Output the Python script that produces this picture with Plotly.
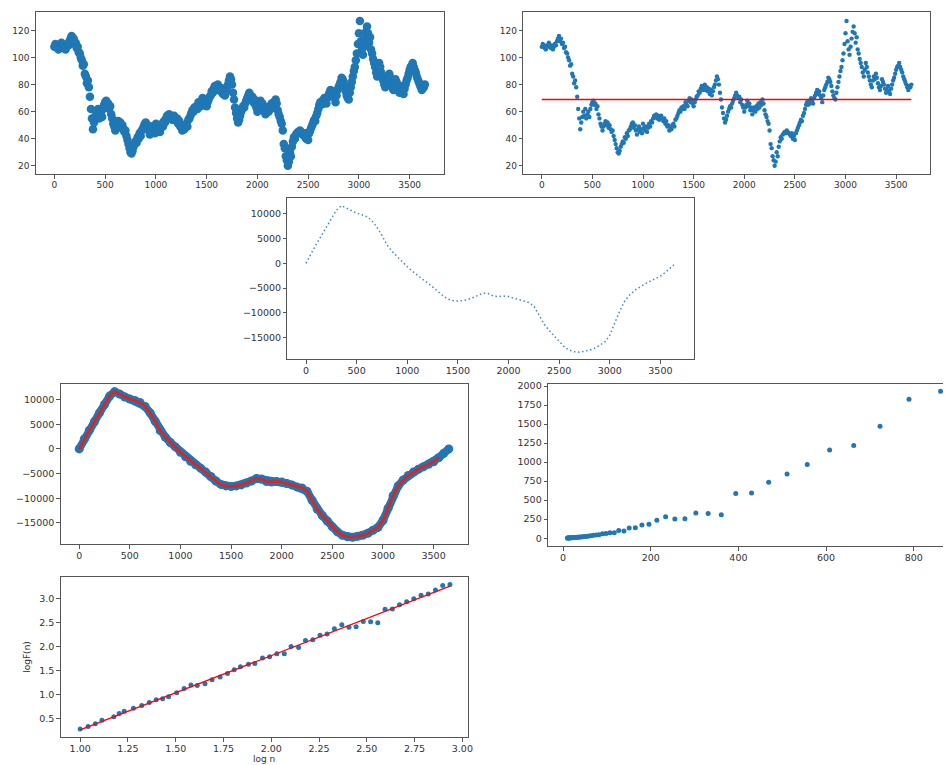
import numpy as np
import plotly.graph_objects as go

# ---------------------------------------------------------------- data
# daily closing price, sampled every 10 trading days
price_step = 10
close = [
    108, 110, 109, 107, 106, 109, 108, 111, 109, 107,
    109, 106, 108, 110, 109, 112, 114, 116, 112, 114,
    110, 111, 107, 108, 104, 103, 100, 98, 94, 95,
    88, 86, 81, 83, 78, 71, 62, 55, 47, 52,
    56, 60, 57, 62, 55, 58, 60, 56, 62, 65,
    67, 68, 65, 66, 62, 64, 58, 55, 51, 49,
    46, 49, 51, 53, 50, 52, 48, 50, 47, 45,
    46, 42, 39, 36, 33, 30, 29, 31, 34, 36,
    38, 37, 41, 40, 44, 42, 46, 47, 49, 51,
    52, 48, 50, 46, 43, 47, 49, 45, 47, 44,
    51, 48, 46, 49, 45, 48, 51, 49, 53, 52,
    55, 57, 56, 58, 55, 57, 54, 56, 57, 55,
    53, 55, 51, 53, 49, 50, 46, 48, 47, 50,
    51, 49, 54, 55, 57, 59, 61, 60, 63, 62,
    64, 62, 67, 65, 64, 68, 70, 67, 69, 66,
    64, 67, 69, 71, 72, 75, 74, 77, 79, 76,
    78, 80, 76, 78, 75, 77, 73, 76, 72, 75,
    78, 80, 83, 86, 84, 80, 74, 69, 63, 59,
    55, 52, 54, 57, 60, 62, 64, 63, 66, 68,
    70, 72, 74, 72, 70, 71, 67, 69, 65, 63,
    60, 63, 65, 68, 64, 66, 61, 63, 58, 61,
    63, 60, 64, 62, 66, 63, 67, 65, 69, 66,
    61, 58, 56, 53, 51, 46, 36, 33, 27, 24,
    20, 23, 30, 27, 34, 38, 41, 40, 43, 44,
    45, 44, 46, 45, 44, 43, 42, 44, 40, 42,
    39, 44, 46, 48, 50, 52, 54, 53, 57, 59,
    62, 65, 67, 65, 68, 66, 70, 68, 66, 70,
    72, 74, 76, 73, 75, 72, 70, 67, 72, 76,
    78, 80, 82, 85, 84, 82, 79, 75, 72, 70,
    69, 74, 78, 82, 86, 90, 93, 98, 103, 110,
    118, 127, 112, 106, 102, 108, 114, 119, 123, 118,
    111, 115, 106, 103, 99, 96, 93, 89, 86, 91,
    96, 93, 89, 86, 83, 80, 78, 83, 86, 84,
    88, 85, 81, 78, 76, 79, 84, 82, 80, 77,
    74, 76, 79, 75, 73, 77, 80, 83, 85, 88,
    91, 93, 94, 96, 93, 91, 89, 86, 84, 82,
    80, 78, 76, 79, 78, 80,
]
days = np.arange(len(close)) * price_step
close_mean = float(np.mean(close))

# cumulative profile of deviations from the mean, every 50 days
profile_step = 50
profile = [
    0, 2000, 3800, 5500, 7300, 9000, 10700, 11600, 11100, 10500,
    10100, 9800, 9400, 8600, 7300, 5600, 3700, 2400, 1300, 400,
    -700, -1600, -2500, -3200, -3900, -4700, -5600, -6500, -7200, -7500,
    -7600, -7500, -7300, -6900, -6500, -6000, -6100, -6600, -6700, -6600,
    -6700, -7000, -7300, -7700, -7900, -8600, -10400, -12200, -13500, -14600,
    -15800, -16800, -17500, -17800, -17900, -17700, -17500, -17100, -16500, -15900,
    -14500, -12000, -9500, -7500, -6300, -5400, -4700, -4100, -3600, -3100,
    -2600, -1800, -900, 0,
]
profile_days = np.arange(len(profile)) * profile_step
trend_last_day = 3550

# fluctuation function F(n) for each window size n (log10 values)
window_n = [
    10, 11, 12, 13, 15, 16, 17, 19, 21, 23,
    25, 27, 29, 32, 35, 38, 41, 45, 49, 54,
    59, 64, 69, 76, 82, 90, 98, 107, 117, 127,
    139, 151, 165, 180, 196, 214, 234, 255, 278, 303,
    331, 361, 394, 430, 469, 511, 557, 608, 663, 723,
    789, 861,
]
log_F = [
    0.29, 0.34, 0.40, 0.47, 0.545, 0.61, 0.66, 0.72, 0.78, 0.84,
    0.895, 0.92, 0.96, 1.04, 1.13, 1.20, 1.19, 1.23, 1.31, 1.37,
    1.44, 1.52, 1.58, 1.63, 1.65, 1.76, 1.79, 1.85, 1.85, 2.00,
    1.98, 2.125, 2.14, 2.235, 2.26, 2.37, 2.45, 2.40, 2.41, 2.52,
    2.51, 2.49, 2.77, 2.775, 2.866, 2.926, 2.987, 3.064, 3.086, 3.168,
    3.262, 3.286,
]
log_n = np.log10(window_n)
F_n = 10 ** np.asarray(log_F)
slope, intercept = np.polyfit(log_n, log_F, 1)
fit_x = np.array([log_n.min(), log_n.max()])
fit_y = slope * fit_x + intercept

# tick positions / labels
day_ticks = [0, 500, 1000, 1500, 2000, 2500, 3000, 3500]
price_ticks = [20, 40, 60, 80, 100, 120]
profile_ticks = [-15000, -10000, -5000, 0, 5000, 10000]
profile_labels = [str(v).replace("-", "\u2212") for v in profile_ticks]
n_ticks = [0, 200, 400, 600, 800]
F_ticks = [0, 250, 500, 750, 1000, 1250, 1500, 1750, 2000]
logn_ticks = [1.00, 1.25, 1.50, 1.75, 2.00, 2.25, 2.50, 2.75, 3.00]
logF_ticks = [0.5, 1.0, 1.5, 2.0, 2.5, 3.0]

# ---------------------------------------------------------------- layout helpers
W, H = 948, 765
BLUE = "#1f77b4"
FONT = "DejaVu Sans, sans-serif"


def dom_x(l, r):
    return [l / W, min(r / W, 1.0)]


def dom_y(t, b):
    return [1 - b / H, 1 - t / H]


def axis(domain, rng, ticks, labels=None, anchor=None, mirror=True, size=9.5):
    a = dict(
        domain=domain, range=rng, tickmode="array", tickvals=ticks,
        ticktext=labels if labels is not None else [str(t) for t in ticks],
        showline=True, linecolor="#555", linewidth=1, mirror=mirror,
        ticks="outside", ticklen=3.5, tickwidth=1, tickcolor="#555",
        showgrid=False, zeroline=False,
        tickfont=dict(family=FONT, size=size, color="#333"),
    )
    if anchor:
        a["anchor"] = anchor
    return a


fig = go.Figure()

# 1: price, large markers
fig.add_trace(go.Scatter(x=days, y=close, mode="markers", xaxis="x", yaxis="y",
                         marker=dict(color=BLUE, size=8.5, line=dict(width=0))))
# 2: price, small markers with the mean level
fig.add_trace(go.Scatter(x=days, y=close, mode="markers", xaxis="x2", yaxis="y2",
                         marker=dict(color=BLUE, size=4.4, line=dict(width=0))))
fig.add_trace(go.Scatter(x=[days[0], days[-1]], y=[close_mean, close_mean], mode="lines",
                         xaxis="x2", yaxis="y2", line=dict(color="red", width=1.5)))
# 3: profile, dotted
fig.add_trace(go.Scatter(x=profile_days, y=profile, mode="lines", xaxis="x3", yaxis="y3",
                         line=dict(color=BLUE, width=1.5, dash="1.5px,2.6px"), opacity=0.85))
# 4: profile (thick) with local trend
fig.add_trace(go.Scatter(x=profile_days, y=profile, mode="lines+markers", xaxis="x4", yaxis="y4",
                         line=dict(color=BLUE, width=8),
                         marker=dict(color=BLUE, size=9, line=dict(width=0))))
trend_mask = profile_days <= trend_last_day
fig.add_trace(go.Scatter(x=profile_days[trend_mask], y=np.asarray(profile)[trend_mask],
                         mode="lines", xaxis="x4", yaxis="y4",
                         line=dict(color="#d62728", width=3)))
# 5: F(n) against n
fig.add_trace(go.Scatter(x=window_n, y=F_n, mode="markers", xaxis="x5", yaxis="y5",
                         marker=dict(color=BLUE, size=5, line=dict(width=0))))
# 6: log-log with linear fit
fig.add_trace(go.Scatter(x=log_n, y=log_F, mode="markers", xaxis="x6", yaxis="y6",
                         marker=dict(color=BLUE, size=5, line=dict(width=0))))
fig.add_trace(go.Scatter(x=fit_x, y=fit_y, mode="lines", xaxis="x6", yaxis="y6",
                         line=dict(color="red", width=1.3)))

day_range = [-183, 3835]
price_range = [13.8, 133.7]
profile_range = [-19300, 13150]

p6x = dom_x(61, 470)
p6y = dom_y(575.7, 737)

fig.update_layout(
    width=W, height=H, margin=dict(l=0, r=0, t=0, b=0),
    paper_bgcolor="white", plot_bgcolor="white", showlegend=False,
    font=dict(family=FONT, color="#333"),
    xaxis=axis(dom_x(36, 446), day_range, day_ticks, anchor="y", size=9),
    yaxis=axis(dom_y(8, 171), price_range, price_ticks, anchor="x", size=9),
    xaxis2=axis(dom_x(526, 935), day_range, day_ticks, anchor="y2", size=9),
    yaxis2=axis(dom_y(8, 171), price_range, price_ticks, anchor="x2", size=9),
    xaxis3=axis(dom_x(289, 698), day_range, day_ticks, anchor="y3"),
    yaxis3=axis(dom_y(195, 357), profile_range, profile_ticks, profile_labels, anchor="x3"),
    xaxis4=axis(dom_x(61, 470), day_range, day_ticks, anchor="y4"),
    yaxis4=axis(dom_y(382, 543), profile_range, profile_ticks, profile_labels, anchor="x4"),
    xaxis5=axis(dom_x(551, 948), [-34, 866.6], n_ticks, anchor="y5"),
    yaxis5=axis(dom_y(382, 545), [-105, 2028], F_ticks, anchor="x5", mirror=False),
    xaxis6=axis(p6x, [0.898, 3.027], logn_ticks, [f"{v:.2f}" for v in logn_ticks], anchor="y6"),
    yaxis6=axis(p6y, [0.122, 3.446], logF_ticks, [f"{v:.1f}" for v in logF_ticks], anchor="x6"),
    annotations=[
        dict(text="log n", x=(p6x[0] + p6x[1]) / 2, y=1 - 759 / H, xref="paper", yref="paper",
             showarrow=False, font=dict(family=FONT, size=9, color="#333"),
             xanchor="center", yanchor="middle"),
        dict(text="logF(n)", x=27 / W, y=(p6y[0] + p6y[1]) / 2, xref="paper", yref="paper",
             showarrow=False, textangle=-90, font=dict(family=FONT, size=9, color="#333"),
             xanchor="center", yanchor="middle"),
    ],
)

# top spine for every panel (the F(n) panel keeps its right edge open)
fig.update_xaxes(mirror=True, ticklabelstandoff=-1)

fig.write_html("out.html", config={"displayModeBar": False})
